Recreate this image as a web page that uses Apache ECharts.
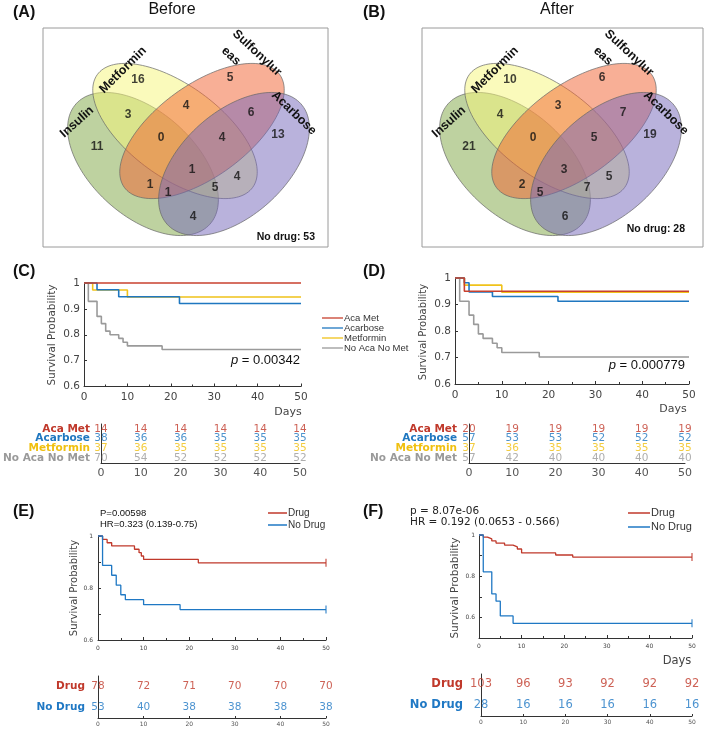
<!DOCTYPE html>
<html>
<head>
<meta charset="utf-8">
<script src="https://cdn.jsdelivr.net/npm/echarts@6/dist/echarts.min.js"></script>
<style>
html, body { margin: 0; padding: 0; background: #fff; }
#main { width: 709px; height: 730px; }
</style>
</head>
<body>
<div id="main"></div>
<script>
// ---------- data ----------
var vennRegions = ['Insulin', 'Metformin', 'Sulfonylureas', 'Acarbose',
  'Ins+Met', 'Met+Sulf', 'Sulf+Aca', 'Ins+Met+Sulf', 'Met+Sulf+Aca', 'All four',
  'Ins+Sulf', 'Met+Aca', 'Ins+Sulf+Aca', 'Ins+Met+Aca', 'Ins+Aca'];
var vennBefore = [11, 16, 5, 13, 3, 4, 6, 0, 4, 1, 1, 4, 1, 5, 4];
var vennAfter = [21, 10, 6, 19, 4, 3, 7, 0, 5, 3, 2, 5, 5, 7, 6];
var noDrugBefore = 53;
var noDrugAfter = 28;

var kmGroups = ['Aca Met', 'Acarbose', 'Metformin', 'No Aca No Met'];
// [day, survival] at every drop, last point at day 50
var beforeAcaMet = [[0, 1], [50, 1]];
var beforeAcarbose = [[0, 1], [3, 0.974], [8, 0.947], [22, 0.921], [50, 0.921]];
var beforeMetformin = [[0, 1], [2, 0.973], [10, 0.946], [50, 0.946]];
var beforeNone = [[0, 1], [1, 0.929], [3, 0.871], [4, 0.843], [5, 0.814], [6, 0.8],
  [8, 0.786], [9, 0.771], [10, 0.757], [18, 0.743], [50, 0.743]];
var afterAcaMet = [[0, 1], [2, 0.95], [50, 0.95]];
var afterAcarbose = [[0, 1], [2, 0.982], [3, 0.947], [8, 0.93], [22, 0.912], [50, 0.912]];
var afterMetformin = [[0, 1], [2, 0.973], [10, 0.946], [50, 0.946]];
var afterNone = [[0, 1], [1, 0.912], [3, 0.86], [4, 0.825], [5, 0.789], [6, 0.772],
  [8, 0.754], [9, 0.737], [10, 0.719], [18, 0.702], [50, 0.702]];

var beforeDrug = [[0, 1], [1, 0.987], [2, 0.974], [3, 0.962], [8, 0.949], [9, 0.936],
  [9.5, 0.923], [10, 0.91], [22, 0.897], [50, 0.897]];
var beforeNoDrug = [[0, 1], [1, 0.887], [3, 0.849], [4, 0.811], [5, 0.774], [6, 0.755],
  [10, 0.736], [18, 0.717], [50, 0.717]];
var afterDrug = [[0, 1], [1, 0.99], [2, 0.981], [3, 0.971], [4, 0.961], [6, 0.951],
  [8, 0.942], [9, 0.932], [10, 0.913], [18, 0.903], [22, 0.893], [50, 0.893]];
var afterNoDrug = [[0, 1], [1, 0.821], [3, 0.714], [4, 0.679], [5, 0.607], [8, 0.571], [50, 0.571]];

var riskDays = [0, 10, 20, 30, 40, 50];
var riskBeforeAcaMet = [14, 14, 14, 14, 14, 14];
var riskBeforeAcarbose = [38, 36, 36, 35, 35, 35];
var riskBeforeMetformin = [37, 36, 35, 35, 35, 35];
var riskBeforeNone = [70, 54, 52, 52, 52, 52];
var riskAfterAcaMet = [20, 19, 19, 19, 19, 19];
var riskAfterAcarbose = [57, 53, 53, 52, 52, 52];
var riskAfterMetformin = [37, 36, 35, 35, 35, 35];
var riskAfterNone = [57, 42, 40, 40, 40, 40];
var drugRows = ['Drug', 'No Drug'];
var riskBeforeDrug = [78, 72, 71, 70, 70, 70];
var riskBeforeNoDrug = [53, 40, 38, 38, 38, 38];
var riskAfterDrug = [103, 96, 93, 92, 92, 92];
var riskAfterNoDrug = [28, 16, 16, 16, 16, 16];

// ---------- layout / style ----------
var groupColors = ['#c8402e', '#1f77c0', '#f0c21a', '#9a9a9a'];
var tableColors = ['#c0392b', '#1f77c0', '#f0c010', '#9a9a9a'];
var red = '#c0392b', blue = '#1f78c4';
var sans = 'Liberation Sans, Arial, sans-serif';
var dejavu = 'DejaVu Sans, sans-serif';

// ellipse: dx from symmetry axis, cy, semi-major, semi-minor, tilt (deg)
var ellipseShapes = [
  [-45.5, 136, 90, 52, 42],
  [-13.5, 103, 96, 46, 36],
  [13.5, 103, 96, 46, -36],
  [45.5, 136, 90, 52, -42]
];
var ellipseColors = ['rgba(125,165,65,0.5)', 'rgba(245,245,120,0.5)',
  'rgba(241,95,45,0.5)', 'rgba(115,101,185,0.5)'];
var vennLabelPos = [[-91.5, 119], [-50.5, 52], [41.5, 50], [89.5, 107], [-60.5, 87],
  [-2.5, 78], [62.5, 85], [-27.5, 110], [33.5, 110], [3.5, 142], [-38.5, 157],
  [48.5, 149], [-20.5, 165], [26.5, 160], [4.5, 189]];

var myChart = echarts.init(document.getElementById('main'));

function ellipseSeries(gi, axisX) {
  return {
    type: 'custom', xAxisIndex: gi, yAxisIndex: gi, silent: true,
    encode: { x: 0, y: 1 },
    data: ellipseShapes.map(function (e, i) { return [axisX + e[0], e[1], e[2], e[3], e[4], i]; }),
    renderItem: function (params, api) {
      var cx = api.value(0), cy = api.value(1), a = api.value(2), b = api.value(3);
      var phi = api.value(4) * Math.PI / 180;
      var pts = [];
      for (var k = 0; k < 144; k++) {
        var t = k / 144 * 2 * Math.PI;
        pts.push(api.coord([
          cx + a * Math.cos(t) * Math.cos(phi) - b * Math.sin(t) * Math.sin(phi),
          cy + a * Math.cos(t) * Math.sin(phi) + b * Math.sin(t) * Math.cos(phi)
        ]));
      }
      return {
        type: 'polygon', shape: { points: pts },
        style: { fill: ellipseColors[api.value(5)], stroke: '#666', lineWidth: 0.7 }
      };
    }
  };
}

function vennNumbers(gi, axisX, values) {
  return {
    type: 'scatter', xAxisIndex: gi, yAxisIndex: gi, silent: true, clip: false, z: 5,
    symbolSize: 1, itemStyle: { color: 'transparent' },
    data: values.map(function (v, i) { return [axisX + vennLabelPos[i][0], vennLabelPos[i][1], v]; }),
    label: {
      show: true, position: 'inside', color: '#111', fontSize: 12, fontWeight: 'bold',
      fontFamily: sans, formatter: function (p) { return p.value[2]; }
    }
  };
}

function kmLine(gi, name, data, color, width) {
  return {
    type: 'line', name: name, xAxisIndex: gi, yAxisIndex: gi, step: 'end',
    symbol: 'none', showSymbol: false, clip: false, data: data,
    lineStyle: { color: color, width: width }, itemStyle: { color: color }
  };
}

function censor(gi, data, color) {
  return {
    type: 'scatter', xAxisIndex: gi, yAxisIndex: gi, clip: false, silent: true,
    symbol: 'rect', symbolSize: [1.3, 8], itemStyle: { color: color },
    data: [data[data.length - 1]]
  };
}

function riskRow(gi, row, values, color, fs) {
  return {
    type: 'scatter', xAxisIndex: gi, yAxisIndex: gi, clip: false, silent: true,
    symbolSize: 1, itemStyle: { color: 'transparent' },
    data: riskDays.map(function (d, i) { return [d, row, values[i]]; }),
    label: {
      show: true, position: 'inside', color: color, fontSize: fs, fontFamily: dejavu,
      formatter: function (p) { return p.value[2]; }
    }
  };
}

function vennAxes(gi, w, h) {
  return [
    { gridIndex: gi, type: 'value', min: 0, max: w, show: false },
    { gridIndex: gi, type: 'value', min: 0, max: h, inverse: true, show: false }
  ];
}

function kmX(gi, fs, margin) {
  return {
    gridIndex: gi, type: 'value', min: 0, max: 50, interval: 10,
    axisLine: { show: true, onZero: false, lineStyle: { color: '#333', width: 1 } },
    axisTick: { show: true, inside: true, length: 3, lineStyle: { color: '#333' } },
    minorTick: { show: true, splitNumber: 2, length: 2, lineStyle: { color: '#333' } },
    splitLine: { show: false },
    axisLabel: { fontSize: fs, color: '#444', fontFamily: dejavu, margin: margin }
  };
}

function kmY(gi, min, interval, fs, margin, formatter) {
  return {
    gridIndex: gi, type: 'value', min: min, max: 1, interval: interval,
    axisLine: { show: true, onZero: false, lineStyle: { color: '#333', width: 1 } },
    axisTick: { show: true, inside: true, length: 3, lineStyle: { color: '#333' } },
    splitLine: { show: false },
    axisLabel: { fontSize: fs, color: '#444', fontFamily: dejavu, margin: margin, formatter: formatter }
  };
}

function riskX(gi, fs, margin, ticks) {
  return {
    gridIndex: gi, type: 'value', min: 0, max: 50, interval: 10,
    axisLine: { show: true, onZero: false, lineStyle: { color: '#333', width: 1 } },
    axisTick: { show: ticks, inside: true, length: 2, lineStyle: { color: '#333' } },
    splitLine: { show: false },
    axisLabel: { fontSize: fs, color: '#555', fontFamily: dejavu, margin: margin }
  };
}

function riskY(gi, rows, colors, fs, offset, margin) {
  return {
    gridIndex: gi, type: 'category', data: rows, inverse: true, offset: offset,
    axisLine: { show: true, lineStyle: { color: '#333', width: 1 } },
    axisTick: { show: false },
    axisLabel: {
      interval: 0, margin: margin, fontSize: fs, fontWeight: 'bold', fontFamily: dejavu,
      color: function (v, i) { return colors[i]; }
    }
  };
}

function txt(x, y, text, o) {
  o = o || {};
  return {
    type: 'text', x: x, y: y, rotation: (o.rot || 0) * Math.PI / 180, z: 100,
    style: {
      text: text, fill: o.color || '#111', fontSize: o.size || 12,
      fontFamily: o.font || sans, fontWeight: o.weight || 'normal',
      fontStyle: o.style || 'normal',
      align: o.align || 'center', verticalAlign: 'middle', rich: o.rich
    }
  };
}

var evenTenths = function (v) { return Math.round(v * 10) % 2 === 0 ? String(Math.round(v * 10) / 10) : ''; };

var vA = vennAxes(0, 285, 219), vB = vennAxes(1, 281, 219);

option = {
  animation: false,
  backgroundColor: '#fff',
  grid: [
    { left: 43, top: 28, width: 285, height: 219, show: true, borderColor: '#9a9a9a', borderWidth: 1 },
    { left: 422, top: 28, width: 281, height: 219, show: true, borderColor: '#9a9a9a', borderWidth: 1 },
    { left: 84, top: 283, width: 217, height: 103.5 },
    { left: 455, top: 278, width: 234, height: 106 },
    { left: 99, top: 424, width: 201, height: 39 },
    { left: 469, top: 424, width: 216, height: 39 },
    { left: 98, top: 536, width: 228, height: 104 },
    { left: 479, top: 535, width: 213, height: 103 },
    { left: 98, top: 676, width: 228, height: 42 },
    { left: 481, top: 674, width: 211, height: 42 }
  ],
  xAxis: [vA[0], vB[0], kmX(2, 10.5, 5), kmX(3, 10.5, 6), riskX(4, 11, 5, false), riskX(5, 11, 5, false),
    kmX(6, 6, 5), kmX(7, 6, 5), riskX(8, 6, 3, true), riskX(9, 6, 3, true)],
  yAxis: [vA[1], vB[1], kmY(2, 0.6, 0.1, 10.5, 4), kmY(3, 0.6, 0.1, 10.5, 4),
    riskY(4, kmGroups, tableColors, 10.5, 8, 3), riskY(5, kmGroups, tableColors, 10.5, 10, 2),
    kmY(6, 0.6, 0.1, 6, 5, evenTenths), kmY(7, 0.5, 0.1, 6, 4, evenTenths),
    riskY(8, drugRows, [red, blue], 10.5, 10, 3), riskY(9, drugRows, [red, blue], 11.5, 14, 4)],
  legend: [
    {
      data: kmGroups, orient: 'vertical', left: 322, top: 313, padding: 0, icon: 'rect',
      itemWidth: 21, itemHeight: 1.3, itemGap: 0, selectedMode: false,
      textStyle: { fontSize: 9.5, color: '#333', lineHeight: 7.5, fontFamily: sans, padding: [0, 0, 0, -4] }
    },
    {
      data: drugRows, orient: 'vertical', left: 268, top: 507, padding: 0, icon: 'rect',
      itemWidth: 19, itemHeight: 1.5, itemGap: 0, selectedMode: false,
      textStyle: { fontSize: 10, color: '#333', lineHeight: 12, fontFamily: sans, padding: [0, 0, 0, -4] }
    },
    {
      data: drugRows, orient: 'vertical', left: 628, top: 506, padding: 0, icon: 'rect',
      itemWidth: 22, itemHeight: 1.5, itemGap: 0, selectedMode: false,
      textStyle: { fontSize: 11, color: '#333', lineHeight: 14, fontFamily: sans, padding: [0, 0, 0, -4] }
    }
  ],
  series: [
    ellipseSeries(0, 145.5), vennNumbers(0, 145.5, vennBefore),
    ellipseSeries(1, 138.5), vennNumbers(1, 138.5, vennAfter),
    kmLine(2, kmGroups[3], beforeNone, groupColors[3], 1.6),
    kmLine(2, kmGroups[2], beforeMetformin, groupColors[2], 1.6),
    kmLine(2, kmGroups[1], beforeAcarbose, groupColors[1], 1.6),
    kmLine(2, kmGroups[0], beforeAcaMet, groupColors[0], 1.6),
    kmLine(3, kmGroups[3], afterNone, groupColors[3], 1.6),
    kmLine(3, kmGroups[2], afterMetformin, groupColors[2], 1.6),
    kmLine(3, kmGroups[1], afterAcarbose, groupColors[1], 1.6),
    kmLine(3, kmGroups[0], afterAcaMet, groupColors[0], 1.6),
    riskRow(4, kmGroups[0], riskBeforeAcaMet, tableColors[0], 10.5),
    riskRow(4, kmGroups[1], riskBeforeAcarbose, tableColors[1], 10.5),
    riskRow(4, kmGroups[2], riskBeforeMetformin, tableColors[2], 10.5),
    riskRow(4, kmGroups[3], riskBeforeNone, tableColors[3], 10.5),
    riskRow(5, kmGroups[0], riskAfterAcaMet, tableColors[0], 10.5),
    riskRow(5, kmGroups[1], riskAfterAcarbose, tableColors[1], 10.5),
    riskRow(5, kmGroups[2], riskAfterMetformin, tableColors[2], 10.5),
    riskRow(5, kmGroups[3], riskAfterNone, tableColors[3], 10.5),
    kmLine(6, 'Drug', beforeDrug, red, 1.3), censor(6, beforeDrug, red),
    kmLine(6, 'No Drug', beforeNoDrug, blue, 1.3), censor(6, beforeNoDrug, blue),
    kmLine(7, 'Drug', afterDrug, red, 1.3), censor(7, afterDrug, red),
    kmLine(7, 'No Drug', afterNoDrug, blue, 1.3), censor(7, afterNoDrug, blue),
    riskRow(8, 'Drug', riskBeforeDrug, red, 10.5),
    riskRow(8, 'No Drug', riskBeforeNoDrug, blue, 10.5),
    riskRow(9, 'Drug', riskAfterDrug, red, 11.5),
    riskRow(9, 'No Drug', riskAfterNoDrug, blue, 11.5)
  ],
  graphic: [
    txt(13, 13, '(A)', { align: 'left', size: 16, weight: 'bold' }),
    txt(363, 13, '(B)', { align: 'left', size: 16, weight: 'bold' }),
    txt(13, 272, '(C)', { align: 'left', size: 16, weight: 'bold' }),
    txt(363, 272, '(D)', { align: 'left', size: 16, weight: 'bold' }),
    txt(13, 512, '(E)', { align: 'left', size: 16, weight: 'bold' }),
    txt(363, 512, '(F)', { align: 'left', size: 16, weight: 'bold' }),
    txt(172, 10, 'Before', { size: 16 }),
    txt(557, 10, 'After', { size: 16 }),
    // venn set names
    txt(77, 122, 'Insulin', { size: 12.5, weight: 'bold', rot: 42 }),
    txt(123, 70, 'Metformin', { size: 12.5, weight: 'bold', rot: 45 }),
    txt(257, 53, 'Sulfonylur', { size: 12.5, weight: 'bold', rot: -43 }),
    txt(231, 56, 'eas', { size: 12.5, weight: 'bold', rot: -43 }),
    txt(294, 113, 'Acarbose', { size: 12.5, weight: 'bold', rot: -44 }),
    txt(449, 122, 'Insulin', { size: 12.5, weight: 'bold', rot: 42 }),
    txt(495, 70, 'Metformin', { size: 12.5, weight: 'bold', rot: 45 }),
    txt(629, 53, 'Sulfonylur', { size: 12.5, weight: 'bold', rot: -43 }),
    txt(603, 56, 'eas', { size: 12.5, weight: 'bold', rot: -43 }),
    txt(666, 113, 'Acarbose', { size: 12.5, weight: 'bold', rot: -44 }),
    txt(315, 237, 'No drug: ' + noDrugBefore, { align: 'right', size: 10.5, weight: 'bold' }),
    txt(685, 229, 'No drug: ' + noDrugAfter, { align: 'right', size: 10.5, weight: 'bold' }),
    // KM text
    txt(52, 335, 'Survival Probability', { size: 10.5, font: dejavu, color: '#444', rot: 90 }),
    txt(423, 332, 'Survival Probability', { size: 10, font: dejavu, color: '#444', rot: 90 }),
    txt(74, 588, 'Survival Probability', { size: 10, font: dejavu, color: '#444', rot: 90 }),
    txt(455, 588, 'Survival Probability', { size: 10.5, font: dejavu, color: '#444', rot: 90 }),
    txt(288, 412, 'Days', { size: 11, font: dejavu, color: '#444' }),
    txt(673, 409, 'Days', { size: 11, font: dejavu, color: '#444' }),
    txt(677, 661, 'Days', { size: 11.5, font: dejavu, color: '#444' }),
    txt(300, 360, '{i|p} = 0.00342', { align: 'right', size: 13, rich: { i: { fontStyle: 'italic', fontSize: 13, fontFamily: sans } } }),
    txt(685, 365, '{i|p} = 0.000779', { align: 'right', size: 13, rich: { i: { fontStyle: 'italic', fontSize: 13, fontFamily: sans } } }),
    txt(100, 513, 'P=0.00598', { align: 'left', size: 9.5 }),
    txt(100, 524, 'HR=0.323 (0.139-0.75)', { align: 'left', size: 9.5 }),
    txt(410, 511, 'p = 8.07e-06', { align: 'left', size: 10.5, font: dejavu, color: '#222' }),
    txt(410, 522, 'HR = 0.192 (0.0653 - 0.566)', { align: 'left', size: 10.5, font: dejavu, color: '#222' })
  ]
};
myChart.setOption(option);
</script>
</body>
</html>
